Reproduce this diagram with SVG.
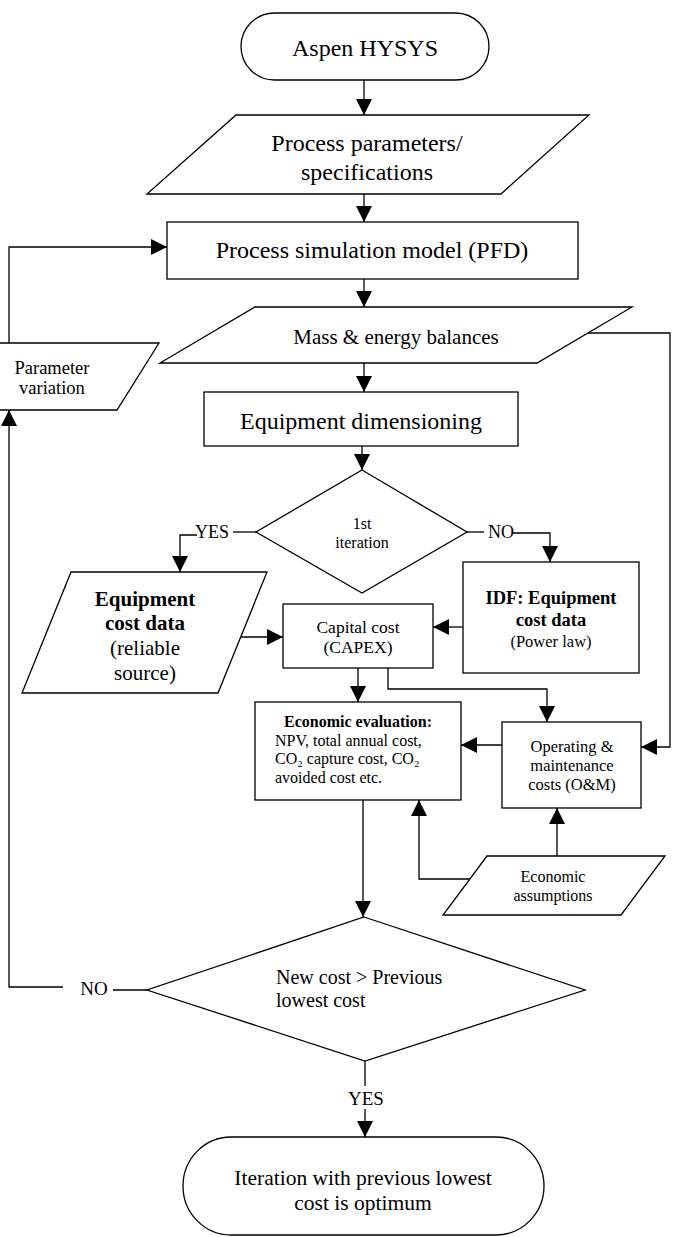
<svg xmlns="http://www.w3.org/2000/svg" width="673" height="1237" viewBox="0 0 673 1237">
<defs>
<marker id="arr" markerUnits="userSpaceOnUse" markerWidth="16" markerHeight="16" refX="16" refY="8" orient="auto"><path d="M0,0 L16,8 L0,16 Z" fill="#000"/></marker>
<style>
.shape{fill:#fff;stroke:#000;stroke-width:1.3}
.conn{fill:none;stroke:#000;stroke-width:1.3}
text{font-family:"Liberation Serif","Times New Roman",serif;fill:#000}
.c{text-anchor:middle}
.b{font-weight:bold}
</style>
</defs>
<rect width="673" height="1237" fill="#fff"/>

<g id="connectors">
<path class="conn" d="M364,80 V115" marker-end="url(#arr)"/>
<path class="conn" d="M364,194 V222" marker-end="url(#arr)"/>
<path class="conn" d="M364,279 V307" marker-end="url(#arr)"/>
<path class="conn" d="M364,363 V392" marker-end="url(#arr)"/>
<path class="conn" d="M362,446 V470" marker-end="url(#arr)"/>
<path class="conn" d="M256,532 H233"/>
<path class="conn" d="M197,535 H180 V572" marker-end="url(#arr)"/>
<path class="conn" d="M467,532 H484"/>
<path class="conn" d="M513,533 H550 V562" marker-end="url(#arr)"/>
<path class="conn" d="M241,637 H283" marker-end="url(#arr)"/>
<path class="conn" d="M463,627 H433" marker-end="url(#arr)"/>
<path class="conn" d="M358,668 V702" marker-end="url(#arr)"/>
<path class="conn" d="M388,668 V689 H547 V722" marker-end="url(#arr)"/>
<path class="conn" d="M588,333 H670 V747 H641" marker-end="url(#arr)"/>
<path class="conn" d="M502,745 H461" marker-end="url(#arr)"/>
<path class="conn" d="M557,856 V808" marker-end="url(#arr)"/>
<path class="conn" d="M470,879 H419 V800" marker-end="url(#arr)"/>
<path class="conn" d="M363,800 V917" marker-end="url(#arr)"/>
<path class="conn" d="M147,990 H113"/>
<path class="conn" d="M63,987 H9 V410" marker-end="url(#arr)"/>
<path class="conn" d="M9,343 V247 H167" marker-end="url(#arr)"/>
<path class="conn" d="M365,1061 V1086"/>
<path class="conn" d="M365,1109 V1137" marker-end="url(#arr)"/>
<text x="212" y="538" class="c" font-size="18">YES</text>
<text x="501" y="538" class="c" font-size="18">NO</text>
<text x="94" y="995" class="c" font-size="19">NO</text>
<text x="366" y="1105" class="c" font-size="19">YES</text>
</g>

<g id="aspen">
<rect class="shape" x="241" y="13" width="248" height="67" rx="33.5"/>
<text x="365" y="56" class="c" font-size="24">Aspen HYSYS</text>
</g>

<g id="params">
<polygon class="shape" points="236,115 589,115 501,194 147,194"/>
<text x="367" y="151" class="c" font-size="24">Process parameters/</text>
<text x="367" y="180" class="c" font-size="24">specifications</text>
</g>

<g id="pfd">
<rect class="shape" x="167" y="222" width="411" height="57"/>
<text x="372" y="258" class="c" font-size="24">Process simulation model (PFD)</text>
</g>

<g id="balances">
<polygon class="shape" points="255,307 632,307 537,363 160,363"/>
<text x="396" y="344" class="c" font-size="21">Mass &amp; energy balances</text>
</g>

<g id="paramvar">
<polygon class="shape" points="-60,343 159,343 117,410 -102,410"/>
<text x="52" y="374" class="c" font-size="18.5">Parameter</text>
<text x="52" y="394" class="c" font-size="18.5">variation</text>
</g>

<g id="dimensioning">
<rect class="shape" x="204" y="392" width="314" height="54"/>
<text x="361" y="429" class="c" font-size="24">Equipment dimensioning</text>
</g>

<g id="first-iter">
<polygon class="shape" points="362,470 467,532 362,593 256,532"/>
<text x="362" y="529" class="c" font-size="16">1st</text>
<text x="362" y="548" class="c" font-size="16">iteration</text>
</g>

<g id="eqcost">
<polygon class="shape" points="71,572 267,572 218,693 22,693"/>
<text x="145" y="606" class="c b" font-size="21">Equipment</text>
<text x="145" y="630" class="c b" font-size="21">cost data</text>
<text x="145" y="655" class="c" font-size="21">(reliable</text>
<text x="145" y="680" class="c" font-size="21">source)</text>
</g>

<g id="capex">
<rect class="shape" x="283" y="604" width="150" height="64"/>
<text x="358" y="633" class="c" font-size="17.5">Capital cost</text>
<text x="358" y="653" class="c" font-size="17.5">(CAPEX)</text>
</g>

<g id="idf">
<rect class="shape" x="463" y="562" width="176" height="111"/>
<text x="551" y="604" class="c b" font-size="18.5">IDF: Equipment</text>
<text x="551" y="626" class="c b" font-size="18.5">cost data</text>
<text x="551" y="647" class="c" font-size="16.5">(Power law)</text>
</g>

<g id="econeval">
<rect class="shape" x="255" y="702" width="206" height="98"/>
<text x="358" y="727" class="c b" font-size="16">Economic evaluation:</text>
<text x="275" y="746" font-size="16">NPV, total annual cost,</text>
<text x="275" y="764" font-size="16">CO₂ capture cost, CO₂</text>
<text x="275" y="783" font-size="16">avoided cost etc.</text>
</g>

<g id="om">
<rect class="shape" x="502" y="722" width="139" height="86"/>
<text x="572" y="752" class="c" font-size="16.5">Operating &amp;</text>
<text x="572" y="771" class="c" font-size="16.5">maintenance</text>
<text x="572" y="790" class="c" font-size="16.5">costs (O&amp;M)</text>
</g>

<g id="assumptions">
<polygon class="shape" points="487,856 665,856 621,915 443,915"/>
<text x="553" y="882" class="c" font-size="16">Economic</text>
<text x="553" y="901" class="c" font-size="16">assumptions</text>
</g>

<g id="compare">
<polygon class="shape" points="364,917 585,990 365,1061 147,990"/>
<text x="276" y="984" font-size="20">New cost &gt; Previous</text>
<text x="276" y="1007" font-size="20">lowest cost</text>
</g>

<g id="optimum">
<rect class="shape" x="183" y="1137" width="361" height="98" rx="48" ry="49"/>
<text x="363" y="1185" class="c" font-size="21.5">Iteration with previous lowest</text>
<text x="363" y="1210" class="c" font-size="21.5">cost is optimum</text>
</g>
</svg>
